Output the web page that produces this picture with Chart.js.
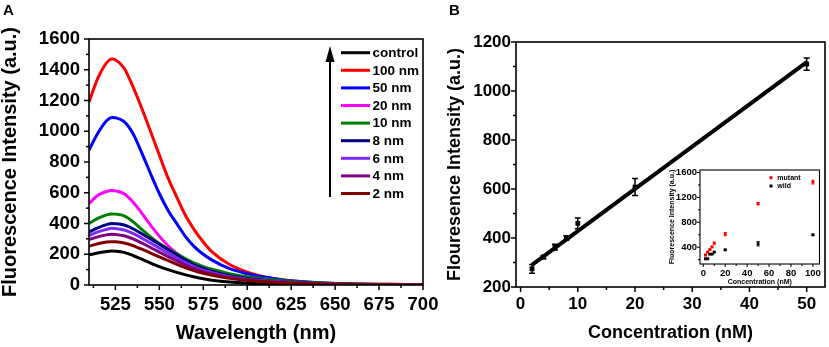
<!DOCTYPE html>
<html>
<head>
<meta charset="utf-8">
<script src="https://cdn.jsdelivr.net/npm/chart.js@4.4.0/dist/chart.umd.min.js"></script>
<style>
  html, body { margin: 0; padding: 0; background: #fff; }
  #wrap { position: relative; width: 829px; height: 347px; overflow: hidden; font-family: Arial, "Liberation Sans", sans-serif; }
  canvas { position: absolute; }
  .tag { position: absolute; font-weight: bold; font-size: 15px; line-height: 15px; }
</style>
</head>
<body>
<div id="wrap">
  <canvas id="chartA" width="450" height="347" style="left:0;top:0"></canvas>
  <canvas id="chartB" width="409" height="347" style="left:420px;top:0"></canvas>
  <canvas id="inset" width="172" height="130" style="left:655px;top:160px"></canvas>
  <div class="tag" style="left:3px;top:2px">A</div>
  <div class="tag" style="left:449px;top:2px">B</div>
</div>
<script>
// ---- panel A: emission spectra ----
const wavelengths = [510, 515, 520, 523, 525, 530, 535, 540, 545, 550, 555, 560, 565, 570, 575, 580, 590, 600, 610, 620, 630, 640, 650, 660, 675, 690, 700];
const control = [196, 208, 218, 221, 220, 212, 192, 168, 143, 120, 100, 82, 66, 52, 40, 31, 19, 12, 8, 6, 4, 3, 2, 2, 1, 1, 1];
const nm100 = [1190, 1344, 1445, 1470, 1465, 1410, 1290, 1150, 1000, 845, 695, 570, 450, 357, 280, 215, 133, 84, 53, 35, 23, 15, 10, 7, 5, 3, 2];
const nm50 = [878, 987, 1068, 1090, 1088, 1062, 985, 860, 725, 595, 485, 398, 313, 248, 200, 162, 106, 74, 50, 33, 22, 15, 10, 7, 4, 3, 2];
const nm20 = [530, 583, 608, 614, 612, 593, 540, 468, 390, 318, 255, 205, 160, 125, 100, 82, 56, 40, 28, 19, 13, 9, 7, 5, 3, 2, 2];
const nm10 = [400, 433, 456, 462, 461, 450, 412, 362, 313, 270, 235, 203, 170, 142, 120, 102, 74, 54, 39, 28, 20, 14, 10, 7, 5, 3, 2];
const nm8 = [345, 372, 393, 400, 399, 390, 366, 333, 300, 265, 230, 195, 160, 130, 108, 88, 60, 42, 30, 21, 15, 10, 7, 5, 3, 2, 2];
const nm6 = [322, 345, 362, 369, 368, 358, 336, 305, 273, 240, 207, 175, 145, 118, 97, 80, 54, 38, 27, 19, 13, 9, 6, 4, 3, 2, 2];
const nm4 = [295, 313, 326, 330, 329, 320, 300, 273, 244, 214, 185, 157, 130, 106, 87, 72, 49, 34, 24, 17, 12, 8, 6, 4, 3, 2, 1];
const nm2 = [252, 268, 279, 282, 281, 273, 256, 233, 208, 183, 158, 134, 112, 92, 76, 63, 43, 30, 21, 15, 10, 7, 5, 4, 2, 2, 1];
const seriesA = [control, nm100, nm50, nm20, nm10, nm8, nm6, nm4, nm2];
const labelsA = ['control', '100 nm', '50 nm', '20 nm', '10 nm', '8 nm', '6 nm', '4 nm', '2 nm'];
const colorsA = ['#000000', '#ff0000', '#0000ff', '#ff00ff', '#008000', '#000080', '#7a2cf5', '#800080', '#800000'];
const xMajorA = [525, 550, 575, 600, 625, 650, 675, 700];
const xMinorA = [512.5, 537.5, 562.5, 587.5, 612.5, 637.5, 662.5, 687.5];
const yMajorA = [0, 200, 400, 600, 800, 1000, 1200, 1400, 1600];
const yMinorA = [100, 300, 500, 700, 900, 1100, 1300, 1500];

// ---- panel B: calibration ----
const concB = [2, 4, 6, 8, 10, 20, 50];
const intensityB = [274, 322, 363, 400, 460, 608, 1110];
const errorB = [18, 7, 12, 9, 22, 35, 25];
const fitX = [2, 50];
const fitY = [290, 1118];
const xMajorB = [0, 10, 20, 30, 40, 50];
const xMinorB = [5, 15, 25, 35, 45];
const yMajorB = [200, 400, 600, 800, 1000, 1200];
const yMinorB = [300, 500, 700, 900, 1100];

// ---- inset ----
const concInset = [2, 4, 6, 8, 10, 20, 50, 100];
const mutant = [275, 322, 360, 405, 465, 610, 1100, 1445];
const mutantErr = [10, 10, 10, 10, 15, 25, 20, 30];
const wild = [214, 214, 288, 290, 322, 358, 455, 598];
const wildErr = [5, 5, 8, 8, 10, 10, 35, 12];
const xMajorIn = [0, 20, 40, 60, 80, 100];
const xMinorIn = [10, 30, 50, 70, 90];
const yMajorIn = [400, 800, 1200, 1600];
const yMinorIn = [200, 600, 1000, 1400];

const FONT = 'Arial, "Liberation Sans", sans-serif';
Chart.defaults.font.family = FONT;
Chart.defaults.color = '#000';

function fixedTicks(major, minor) {
  const all = major.concat(minor).sort((a, b) => a - b);
  return s => { s.ticks = all.map(v => ({ value: v, major: major.includes(v) })); };
}
const onlyMajor = (v, i, t) => (t[i] && t[i].major ? String(v) : '');
const pts = (xs, ys) => xs.map((x, i) => ({ x: x, y: ys[i] }));

// box round the plot area
const frame = {
  id: 'frame',
  afterDraw(chart, args, opts) {
    const { ctx, chartArea: a } = chart;
    ctx.save();
    ctx.strokeStyle = '#000';
    ctx.lineWidth = opts.width;
    ctx.strokeRect(a.left, a.top, a.right - a.left, a.bottom - a.top);
    ctx.restore();
  }
};

// outward tick marks, long on labelled ticks
const tickMarks = {
  id: 'tickMarks',
  afterDraw(chart, args, opts) {
    const ctx = chart.ctx;
    ctx.save();
    ctx.strokeStyle = '#000';
    ctx.lineWidth = opts.width;
    Object.values(chart.scales).forEach(s => {
      s.ticks.forEach(t => {
        const len = t.major ? opts.major : opts.minor;
        const p = s.getPixelForValue(t.value);
        ctx.beginPath();
        if (s.isHorizontal()) { ctx.moveTo(p, s.top); ctx.lineTo(p, s.top + len); }
        else { ctx.moveTo(s.right, p); ctx.lineTo(s.right - len, p); }
        ctx.stroke();
      });
    });
    ctx.restore();
  }
};

const errorBars = {
  id: 'errorBars',
  afterDatasetsDraw(chart, args, opts) {
    const { ctx, scales: { y } } = chart;
    chart.data.datasets.forEach((ds, i) => {
      if (!ds.errors) return;
      const meta = chart.getDatasetMeta(i);
      ctx.save();
      ctx.strokeStyle = ds.borderColor;
      ctx.lineWidth = opts.width;
      meta.data.forEach((pt, j) => {
        const v = ds.data[j].y, e = ds.errors[j];
        const top = y.getPixelForValue(v + e), bot = y.getPixelForValue(v - e);
        ctx.beginPath();
        ctx.moveTo(pt.x, top); ctx.lineTo(pt.x, bot);
        ctx.moveTo(pt.x - opts.cap, top); ctx.lineTo(pt.x + opts.cap, top);
        ctx.moveTo(pt.x - opts.cap, bot); ctx.lineTo(pt.x + opts.cap, bot);
        ctx.stroke();
      });
      ctx.restore();
    });
  }
};

const legendA = {
  id: 'legendA',
  afterDraw(chart) {
    const ctx = chart.ctx;
    ctx.save();
    ctx.strokeStyle = '#000';
    ctx.fillStyle = '#000';
    ctx.lineWidth = 2;
    ctx.beginPath(); ctx.moveTo(330, 197); ctx.lineTo(330, 58); ctx.stroke();
    ctx.beginPath(); ctx.moveTo(330, 46); ctx.lineTo(325.5, 62); ctx.lineTo(334.5, 62); ctx.closePath(); ctx.fill();
    ctx.font = 'bold 13.5px ' + FONT;
    ctx.textBaseline = 'middle';
    chart.data.datasets.forEach((ds, i) => {
      const y = 52.7 + i * 17.6;
      ctx.strokeStyle = ds.borderColor;
      ctx.lineWidth = 3;
      ctx.beginPath(); ctx.moveTo(341, y); ctx.lineTo(370, y); ctx.stroke();
      ctx.fillStyle = '#000';
      ctx.fillText(ds.label, 372.5, y + 0.5);
    });
    ctx.restore();
  }
};

const legendInset = {
  id: 'legendInset',
  afterDraw(chart) {
    const ctx = chart.ctx;
    ctx.save();
    ctx.font = 'bold 7px ' + FONT;
    ctx.textBaseline = 'middle';
    chart.data.datasets.forEach((ds, i) => {
      const y = 17.7 + i * 8.3;
      ctx.fillStyle = ds.backgroundColor;
      ctx.fillRect(114.5, y - 1.5, 3, 3);
      ctx.fillStyle = '#000';
      ctx.fillText(ds.label, 122.3, y);
    });
    ctx.restore();
  }
};

function axis(opts) {
  return {
    type: 'linear',
    min: opts.min, max: opts.max,
    afterBuildTicks: fixedTicks(opts.major, opts.minor),
    afterFit: opts.fit,
    grid: { display: false, drawTicks: false },
    border: { display: false },
    ticks: { autoSkip: false, maxRotation: 0, padding: opts.pad, font: { size: opts.tickSize, weight: 'bold' }, callback: onlyMajor },
    title: { display: true, text: opts.title, font: { size: opts.titleSize, weight: 'bold', lineHeight: 1 }, padding: opts.titlePad }
  };
}

const common = {
  responsive: false,
  animation: false,
  events: [],
  devicePixelRatio: 1
};

new Chart(document.getElementById('chartA'), {
  type: 'scatter',
  data: {
    datasets: seriesA.map((vals, i) => ({
      label: labelsA[i],
      data: pts(wavelengths, vals),
      showLine: true,
      borderColor: colorsA[i],
      backgroundColor: colorsA[i],
      borderWidth: 3,
      pointRadius: 0,
      cubicInterpolationMode: 'monotone',
      order: seriesA.length - i
    }))
  },
  options: Object.assign({}, common, {
    layout: { padding: { left: 0, top: 39, right: 27, bottom: 0 } },
    plugins: {
      legend: { display: false }, tooltip: { enabled: false },
      frame: { width: 1.6 }, tickMarks: { major: 5, minor: 3, width: 1.5 }
    },
    scales: {
      x: axis({ min: 510, max: 700, major: xMajorA, minor: xMinorA, fit: s => { s.height = 62; }, pad: 9, tickSize: 18.5,
                title: 'Wavelength (nm)', titleSize: 20, titlePad: { top: 0, bottom: 4 } }),
      y: axis({ min: 0, max: 1600, major: yMajorA, minor: yMinorA, fit: s => { s.width = 89; }, pad: 9, tickSize: 18.5,
                title: 'Fluorescence Intensity (a.u.)', titleSize: 20, titlePad: { top: 0, bottom: 0 } })
    }
  }),
  plugins: [frame, tickMarks, legendA]
});

new Chart(document.getElementById('chartB'), {
  type: 'scatter',
  data: {
    datasets: [
      { label: 'data', data: pts(concB, intensityB), errors: errorB, pointStyle: 'rect', pointRadius: 3.4,
        backgroundColor: '#000', borderColor: '#000', borderWidth: 0 },
      { label: 'fit', data: pts(fitX, fitY), showLine: true, borderColor: '#000', backgroundColor: '#000',
        borderWidth: 4, pointRadius: 0 }
    ]
  },
  options: Object.assign({}, common, {
    layout: { padding: { left: 0, top: 42, right: 3, bottom: 0 } },
    plugins: {
      legend: { display: false }, tooltip: { enabled: false },
      frame: { width: 1.6 }, tickMarks: { major: 5, minor: 3, width: 1.5 },
      errorBars: { width: 1.5, cap: 3 }
    },
    scales: {
      x: axis({ min: -0.8, max: 53.2, major: xMajorB, minor: xMinorB, fit: s => { s.height = 60; }, pad: 7, tickSize: 17,
                title: 'Concentration (nM)', titleSize: 18, titlePad: { top: 0, bottom: 5 } }),
      y: axis({ min: 200, max: 1200, major: yMajorB, minor: yMinorB, fit: s => { s.width = 96; }, pad: 5, tickSize: 17,
                title: 'Flouresence Intensity (a.u.)', titleSize: 18, titlePad: { top: 26, bottom: 0 } })
    }
  }),
  plugins: [frame, tickMarks, errorBars]
});

new Chart(document.getElementById('inset'), {
  type: 'scatter',
  data: {
    datasets: [
      { label: 'mutant', data: pts(concInset, mutant), errors: mutantErr, pointStyle: 'rect', pointRadius: 2,
        backgroundColor: '#ff0000', borderColor: '#ff0000', borderWidth: 0 },
      { label: 'wild', data: pts(concInset, wild), errors: wildErr, pointStyle: 'rect', pointRadius: 2,
        backgroundColor: '#000', borderColor: '#000', borderWidth: 0 }
    ]
  },
  options: Object.assign({}, common, {
    layout: { padding: { left: 0, top: 10, right: 7.5, bottom: 0 } },
    plugins: {
      legend: { display: false }, tooltip: { enabled: false },
      frame: { width: 1.1 }, tickMarks: { major: 3, minor: 2, width: 1 },
      errorBars: { width: 1, cap: 1.5 }
    },
    scales: {
      x: axis({ min: -3, max: 106, major: xMajorIn, minor: xMinorIn, fit: s => { s.height = 26; }, pad: 3.6, tickSize: 9.5,
                title: 'Concentration (nM)', titleSize: 7, titlePad: { top: 0, bottom: 4 } }),
      y: axis({ min: 130, max: 1640, major: yMajorIn, minor: yMinorIn, fit: s => { s.width = 45; }, pad: 3, tickSize: 9.5,
                title: 'Fluorescence Intensity (a.u.)', titleSize: 7, titlePad: { top: 13.8, bottom: 0 } })
    }
  }),
  plugins: [frame, tickMarks, errorBars, legendInset]
});
</script>
</body>
</html>
